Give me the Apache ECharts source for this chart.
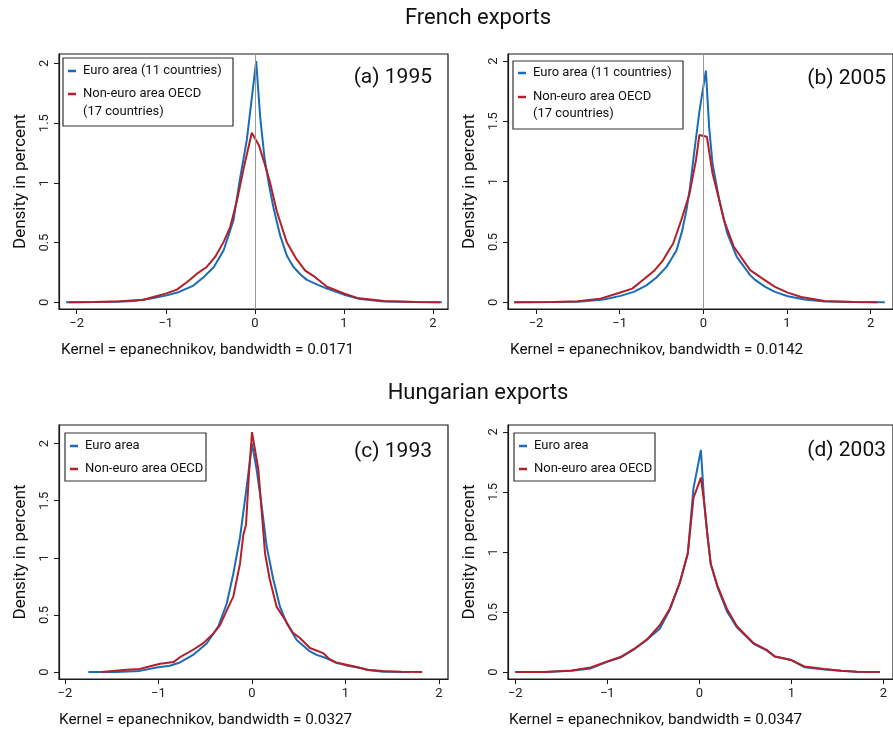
<!DOCTYPE html>
<html>
<head>
<meta charset="utf-8">
<script src="https://cdn.jsdelivr.net/npm/echarts@6/dist/echarts.min.js"></script>
<style>
  html, body { margin: 0; padding: 0; background: #ffffff; }
  #chart { width: 893px; height: 731px; }
</style>
</head>
<body>
<div id="chart"></div>
<script>
// Kernel density estimates of export price changes (density in percent)

const xTicks = [-2, -1, 0, 1, 2];
const yTicks = [0, 0.5, 1, 1.5, 2];

// (a) French exports, 1995
const aEuroX = [-2.12, -1.8, -1.55, -1.36, -1.18, -1.0, -0.85, -0.69, -0.58, -0.46, -0.35, -0.24, -0.17, -0.09, 0.015, 0.06, 0.11, 0.16, 0.21, 0.284, 0.36, 0.43, 0.51, 0.58, 0.7, 0.81, 1.0, 1.18, 1.45, 1.8, 2.1];
const aEuroY = [0, 0.002, 0.004, 0.011, 0.03, 0.056, 0.087, 0.14, 0.207, 0.296, 0.436, 0.687, 1.02, 1.36, 2.02, 1.55, 1.2, 0.98, 0.79, 0.56, 0.39, 0.3, 0.235, 0.19, 0.148, 0.115, 0.064, 0.028, 0.007, 0.002, 0];
const aNonX = [-2.09, -1.8, -1.51, -1.25, -1.14, -1.0, -0.876, -0.76, -0.65, -0.54, -0.446, -0.35, -0.277, -0.2, -0.12, -0.034, 0.048, 0.11, 0.172, 0.247, 0.36, 0.46, 0.566, 0.66, 0.81, 1.0, 1.15, 1.45, 1.8, 2.08];
const aNonY = [0, 0.002, 0.008, 0.022, 0.045, 0.073, 0.106, 0.17, 0.24, 0.296, 0.38, 0.506, 0.63, 0.855, 1.14, 1.42, 1.31, 1.16, 1.0, 0.76, 0.5, 0.37, 0.265, 0.22, 0.13, 0.075, 0.037, 0.011, 0.002, 0];

// (b) French exports, 2005
const bEuroX = [-2.26, -1.8, -1.5, -1.19, -0.99, -0.83, -0.68, -0.56, -0.44, -0.38, -0.32, -0.25, -0.2, -0.158, -0.106, -0.047, 0.031, 0.07, 0.11, 0.19, 0.287, 0.40, 0.56, 0.62, 0.74, 0.857, 1.01, 1.21, 1.45, 1.8, 2.17];
const bEuroY = [0, 0.002, 0.005, 0.022, 0.053, 0.086, 0.14, 0.205, 0.293, 0.36, 0.43, 0.6, 0.77, 0.957, 1.26, 1.58, 1.92, 1.45, 1.15, 0.85, 0.57, 0.376, 0.225, 0.185, 0.127, 0.086, 0.05, 0.022, 0.006, 0.001, 0];
const bNonX = [-2.26, -1.8, -1.5, -1.23, -1.01, -0.85, -0.715, -0.58, -0.48, -0.42, -0.36, -0.264, -0.165, -0.087, -0.047, 0.043, 0.11, 0.19, 0.247, 0.365, 0.56, 0.7, 0.857, 1.01, 1.17, 1.45, 1.8, 2.08];
const bNonY = [0, 0.003, 0.008, 0.03, 0.077, 0.113, 0.188, 0.266, 0.35, 0.42, 0.487, 0.68, 0.9, 1.18, 1.386, 1.372, 1.07, 0.85, 0.68, 0.46, 0.266, 0.2, 0.127, 0.08, 0.044, 0.011, 0.002, 0];

// (c) Hungarian exports, 1993
const cEuroX = [-1.75, -1.45, -1.2, -1.02, -0.88, -0.77, -0.63, -0.485, -0.36, -0.27, -0.2, -0.128, -0.057, 0, 0.05, 0.104, 0.157, 0.228, 0.3, 0.37, 0.478, 0.62, 0.69, 0.8, 0.9, 1.01, 1.16, 1.26, 1.4, 1.69];
const cEuroY = [0, 0, 0.01, 0.04, 0.055, 0.084, 0.15, 0.25, 0.4, 0.6, 0.86, 1.18, 1.62, 2.0, 1.77, 1.45, 1.1, 0.81, 0.57, 0.43, 0.28, 0.18, 0.15, 0.12, 0.08, 0.058, 0.035, 0.015, 0.003, 0];
const cNonX = [-1.61, -1.34, -1.2, -1.09, -0.98, -0.84, -0.77, -0.63, -0.52, -0.41, -0.342, -0.27, -0.2, -0.128, -0.093, -0.064, -0.035, 0, 0.068, 0.139, 0.19, 0.264, 0.353, 0.44, 0.51, 0.62, 0.76, 0.83, 0.9, 1.01, 1.12, 1.23, 1.4, 1.6, 1.82];
const cNonY = [0, 0.02, 0.026, 0.05, 0.073, 0.087, 0.13, 0.195, 0.253, 0.34, 0.41, 0.54, 0.66, 0.95, 1.2, 1.29, 1.7, 2.1, 1.77, 1.04, 0.81, 0.57, 0.457, 0.34, 0.3, 0.21, 0.166, 0.113, 0.084, 0.064, 0.044, 0.02, 0.009, 0.003, 0];

// (d) Hungarian exports, 2003
const dX = [-2.0, -1.68, -1.39, -1.18, -1.0, -0.857, -0.714, -0.57, -0.43, -0.32, -0.214, -0.125, -0.064, 0.017, 0.054, 0.089, 0.124, 0.196, 0.303, 0.41, 0.59, 0.73, 0.82, 1.0, 1.14, 1.36, 1.54, 1.71, 1.96];
const dEuroY = [0, 0, 0.011, 0.03, 0.085, 0.12, 0.186, 0.27, 0.36, 0.52, 0.74, 0.99, 1.53, 1.85, 1.40, 1.13, 0.9, 0.71, 0.5, 0.37, 0.235, 0.18, 0.13, 0.1, 0.04, 0.022, 0.01, 0.003, 0];
const dNonY = [0, 0, 0.012, 0.038, 0.089, 0.125, 0.19, 0.27, 0.39, 0.53, 0.74, 0.99, 1.45, 1.62, 1.40, 1.13, 0.9, 0.72, 0.52, 0.38, 0.24, 0.185, 0.13, 0.1, 0.047, 0.025, 0.011, 0.003, 0];

const sectionTitles = ['French exports', 'Hungarian exports'];
const panelLabels = ['(a) 1995', '(b) 2005', '(c) 1993', '(d) 2003'];
const bandwidths = ['0.0171', '0.0142', '0.0327', '0.0347'];
const euroNames = ['Euro area (11 countries)', 'Euro area (11 countries)', 'Euro area', 'Euro area'];
const nonNames = [['Non-euro area OECD', '(17 countries)'], ['Non-euro area OECD', '(17 countries)'], ['Non-euro area OECD'], ['Non-euro area OECD']];

const FONT = 'Roboto, "DejaVu Sans", sans-serif';
const BLUE = '#1b6cb8';
const RED = '#b41f28';
const INK = '#1a1a1a';

const zip = (xs, ys) => xs.map((x, i) => [x, ys[i]]);

// Layout of the four panels (pixel boxes and axis extents)
const panels = [
  { left: 59,  top: 54,  width: 389, height: 255, xr: [-2.199, 2.169], yr: [-0.056, 2.079],
    euro: zip(aEuroX, aEuroY), non: zip(aNonX, aNonY), zero: true,
    labelAt: [432, 78], noteAt: [61, 350], legend: { x: 63, y: 58, w: 170, h: 68, lx: 68, tx: 83, y1: 71, y2: 94, y3: 112 } },
  { left: 508, top: 54,  width: 390, height: 255, xr: [-2.335, 2.268], yr: [-0.056, 2.058],
    euro: zip(bEuroX, bEuroY), non: zip(bNonX, bNonY), zero: true,
    labelAt: [886, 79], noteAt: [510, 350], legend: { x: 513, y: 61, w: 170, h: 68, lx: 518, tx: 533, y1: 73, y2: 97, y3: 114 } },
  { left: 59,  top: 425, width: 389, height: 254, xr: [-2.064, 2.096], yr: [-0.061, 2.162],
    euro: zip(cEuroX, cEuroY), non: zip(cNonX, cNonY), zero: false,
    labelAt: [432, 452], noteAt: [59, 720], legend: { x: 65, y: 433, w: 141, h: 48, lx: 70, tx: 85, y1: 446, y2: 469 } },
  { left: 508, top: 425, width: 390, height: 254, xr: [-2.079, 2.104], yr: [-0.058, 2.058],
    euro: zip(dX, dEuroY), non: zip(dX, dNonY), zero: false,
    labelAt: [886, 451], noteAt: [509, 720], legend: { x: 514, y: 433, w: 141, h: 48, lx: 519, tx: 534, y1: 446, y2: 469 } }
];

const minus = v => String(v).replace('-', '\u2212');

const grid = [], xAxis = [], yAxis = [], series = [], graphic = [];

panels.forEach((p, i) => {
  grid.push({ left: p.left, top: p.top, width: p.width, height: p.height,
    show: true, borderColor: INK, borderWidth: 1.2, backgroundColor: '#fff' });

  xAxis.push({
    type: 'value', gridIndex: i, min: p.xr[0], max: p.xr[1],
    axisLine: { show: true, onZero: false, lineStyle: { color: INK, width: 1.2 } },
    splitLine: { show: false },
    axisTick: { show: true, length: 5, customValues: xTicks, lineStyle: { color: INK } },
    axisLabel: { customValues: xTicks, formatter: minus, fontSize: 13, color: '#222', margin: 8, fontFamily: FONT }
  });

  yAxis.push({
    type: 'value', gridIndex: i, min: p.yr[0], max: p.yr[1],
    name: 'Density in percent', nameLocation: 'middle', nameGap: 30,
    nameTextStyle: { fontSize: 17, color: '#111', fontFamily: FONT },
    axisLine: { show: true, onZero: false, lineStyle: { color: INK, width: 1.2 } },
    splitLine: { show: false },
    axisTick: { show: true, length: 5, customValues: yTicks, lineStyle: { color: INK } },
    axisLabel: { customValues: yTicks, rotate: 90, fontSize: 13, color: '#222', margin: 8, fontFamily: FONT }
  });

  const euro = {
    type: 'line', xAxisIndex: i, yAxisIndex: i, data: p.euro, showSymbol: false, symbol: 'none',
    lineStyle: { color: BLUE, width: 2 }, itemStyle: { color: BLUE }, silent: true, z: 3
  };
  if (p.zero) {
    euro.markLine = {
      silent: true, symbol: ['none', 'none'], label: { show: false },
      lineStyle: { color: '#9a9a9a', width: 1, type: 'solid' },
      data: [{ xAxis: 0 }]
    };
  }
  series.push(euro);
  series.push({
    type: 'line', xAxisIndex: i, yAxisIndex: i, data: p.non, showSymbol: false, symbol: 'none',
    lineStyle: { color: RED, width: 2 }, itemStyle: { color: RED }, silent: true, z: 4
  });

  // panel label and kernel note
  graphic.push({ type: 'text', x: p.labelAt[0], y: p.labelAt[1], z: 10,
    style: { text: panelLabels[i], font: '21px ' + FONT, fill: '#111', textAlign: 'right', textVerticalAlign: 'middle' } });
  graphic.push({ type: 'text', x: p.noteAt[0], y: p.noteAt[1], z: 10,
    style: { text: 'Kernel = epanechnikov, bandwidth = ' + bandwidths[i], font: '15.3px ' + FONT, fill: '#111', textVerticalAlign: 'middle' } });

  // legend box
  const L = p.legend;
  graphic.push({ type: 'rect', shape: { x: L.x, y: L.y, width: L.w, height: L.h }, z: 10,
    style: { fill: '#fff', stroke: '#333', lineWidth: 1.2 } });
  graphic.push({ type: 'line', shape: { x1: L.lx, y1: L.y1, x2: L.lx + 8, y2: L.y1 }, z: 11, style: { stroke: BLUE, lineWidth: 2.5 } });
  graphic.push({ type: 'line', shape: { x1: L.lx, y1: L.y2, x2: L.lx + 8, y2: L.y2 }, z: 11, style: { stroke: RED, lineWidth: 2.5 } });
  graphic.push({ type: 'text', x: L.tx, y: L.y1, z: 11,
    style: { text: euroNames[i], font: '13px ' + FONT, fill: '#111', textVerticalAlign: 'middle' } });
  graphic.push({ type: 'text', x: L.tx, y: L.y2, z: 11,
    style: { text: nonNames[i][0], font: '13px ' + FONT, fill: '#111', textVerticalAlign: 'middle' } });
  if (nonNames[i][1]) {
    graphic.push({ type: 'text', x: L.tx, y: L.y3, z: 11,
      style: { text: nonNames[i][1], font: '13px ' + FONT, fill: '#111', textVerticalAlign: 'middle' } });
  }
});

// section headings
graphic.push({ type: 'text', x: 478, y: 18, z: 10,
  style: { text: sectionTitles[0], font: '22px ' + FONT, fill: '#111', textAlign: 'center', textVerticalAlign: 'middle' } });
graphic.push({ type: 'text', x: 478, y: 393, z: 10,
  style: { text: sectionTitles[1], font: '22px ' + FONT, fill: '#111', textAlign: 'center', textVerticalAlign: 'middle' } });

const chart = echarts.init(document.getElementById('chart'), null, { renderer: 'canvas' });
chart.setOption({
  backgroundColor: '#ffffff',
  animation: false,
  grid, xAxis, yAxis, series, graphic
});
</script>
</body>
</html>
